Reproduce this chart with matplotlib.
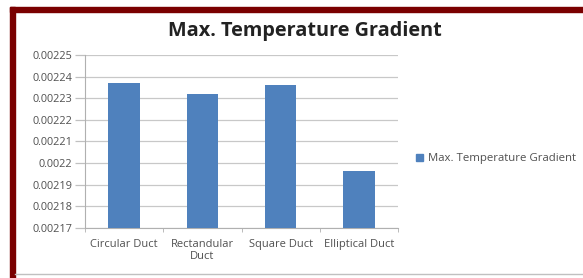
import matplotlib
matplotlib.use("Agg")
import matplotlib.pyplot as plt
from matplotlib.patches import Rectangle
from matplotlib.lines import Line2D

categories = ["Circular Duct", "Rectandular\nDuct", "Square Duct", "Elliptical Duct"]
values = [0.002237, 0.002232, 0.002236, 0.0021963]
series_name = "Max. Temperature Gradient"
yticks = [0.00217, 0.00218, 0.00219, 0.0022, 0.00221, 0.00222, 0.00223, 0.00224, 0.00225]
ytick_labels = ["0.00217", "0.00218", "0.00219", "0.0022", "0.00221", "0.00222", "0.00223", "0.00224", "0.00225"]
title = "Max. Temperature Gradient"

plt.rcParams['font.family'] = ['Open Sans', 'DejaVu Sans']
W, H = 583, 278
fig = plt.figure(figsize=(W/100, H/100), dpi=100)
fig.patch.set_facecolor("white")

ax = fig.add_axes([85/W, 1-228/H, (398-85)/W, (228-55)/H])
x = range(len(categories))
bar_color = "#4F81BD"
ax.bar(x, values, width=0.4, color=bar_color, zorder=3, label=series_name)
ax.set_ylim(yticks[0], yticks[-1])
ax.set_xlim(-0.5, len(categories)-0.5)
ax.set_yticks(yticks)
ax.set_yticklabels(ytick_labels, fontsize=7.8, color="#505050")
ax.set_xticks(list(x))
ax.set_xticklabels(categories, fontsize=8.0, color="#505050", linespacing=1.15)
ax.tick_params(axis='x', length=0, pad=8)
ax.set_xticks([i+0.5 for i in range(len(categories)-1)] + [-0.5, len(categories)-0.5], minor=True)
ax.tick_params(axis='x', which='minor', length=3, color="#B0B0B0", direction='out')
ax.tick_params(axis='y', length=7, width=0.9, color="#C0C0C0", pad=2)
ax.grid(axis='y', color="#C8C8C8", linewidth=0.9, zorder=0)
for s in ["top", "right"]:
    ax.spines[s].set_visible(False)
ax.spines["left"].set_color("#B0B0B0")
ax.spines["bottom"].set_color("#B0B0B0")

fig.text(305/W, 1-31/H, title, ha="center", va="center", fontsize=14.3, fontweight="bold", color="#222222")

# legend
fig.patches.append(Rectangle((416/W, 1-161/H), 7/W, 7/H, transform=fig.transFigure, color=bar_color, figure=fig))
fig.text(428/W, 1-158/H, series_name, ha="left", va="center", fontsize=8.2, color="#505050")

# frame decorations
red = "#7A0000"
fig.patches.append(Rectangle((10/W, 1-12/H), (W-10)/W, 5/H, transform=fig.transFigure, color=red, figure=fig))
fig.patches.append(Rectangle((10/W, 0), 5/W, (H-7)/H, transform=fig.transFigure, color=red, figure=fig))
fig.lines.append(Line2D([15/W, 1], [1-274/H, 1-274/H], transform=fig.transFigure, color="#C0C0C0", linewidth=1, figure=fig))

fig.savefig("out.png", dpi=100)
